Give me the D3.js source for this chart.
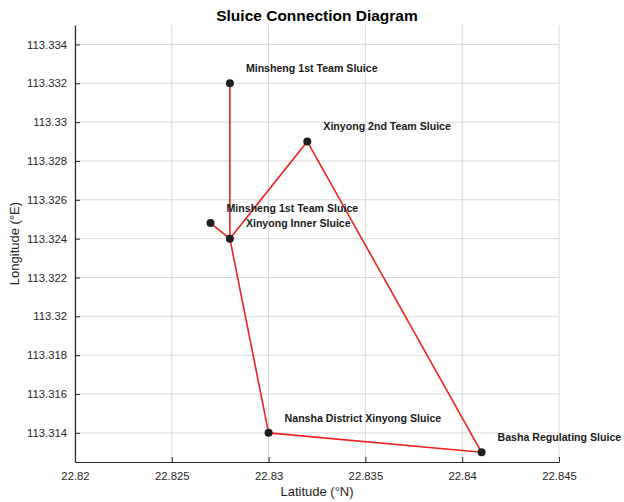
<!DOCTYPE html>
<html>
<head>
<meta charset="utf-8">
<script src="https://cdn.jsdelivr.net/npm/d3@7"></script>
<style>
  html, body { margin: 0; padding: 0; background: #fff; }
  svg { display: block; font-family: "Liberation Sans", Arial, Helvetica, sans-serif; }
</style>
</head>
<body>
<svg id="chart" width="624" height="502"></svg>
<script>
// Sluice stations: latitude (x) and longitude (y)
const names = [
  "Minsheng 1st Team Sluice",
  "Xinyong 2nd Team Sluice",
  "Minsheng 1st Team Sluice",
  "Xinyong Inner Sluice",
  "Nansha District Xinyong Sluice",
  "Basha Regulating Sluice"
];
const latitudes  = [22.828, 22.832, 22.827, 22.828, 22.830, 22.841];
const longitudes = [113.332, 113.329, 113.3248, 113.324, 113.314, 113.313];

// Channel connections between stations (index pairs)
const links = [[0, 3], [3, 1], [1, 5], [5, 4], [4, 3], [3, 2]];

const xTicks = [22.82, 22.825, 22.83, 22.835, 22.84, 22.845];
const yTicks = [113.314, 113.316, 113.318, 113.32, 113.322, 113.324, 113.326, 113.328, 113.33, 113.332, 113.334];

const margin = { left: 75, right: 65, top: 25, bottom: 40 };
const W = 624, H = 502;
const svg = d3.select("#chart");

const x = d3.scaleLinear().domain([22.82, 22.845]).range([margin.left, W - margin.right]);
const y = d3.scaleLinear().domain([113.3125, 113.335]).range([H - margin.bottom, margin.top]);

const fmt = d => String(+d.toFixed(4));
const axisColor = "#262626";

// grid
const grid = svg.append("g");
grid.selectAll("line.v").data(xTicks).join("line")
  .attr("x1", d => x(d)).attr("x2", d => x(d))
  .attr("y1", y.range()[1]).attr("y2", y.range()[0])
  .attr("stroke", "#d9d9d9").attr("stroke-width", 1);
grid.selectAll("line.h").data(yTicks).join("line")
  .attr("y1", d => y(d)).attr("y2", d => y(d))
  .attr("x1", x.range()[0]).attr("x2", x.range()[1])
  .attr("stroke", "#d9d9d9").attr("stroke-width", 1);

// axes (ticks point inward)
const xAxis = svg.append("g")
  .attr("transform", `translate(0,${y.range()[0]})`)
  .call(d3.axisBottom(x).tickValues(xTicks).tickFormat(fmt).tickSizeInner(-5).tickSizeOuter(0).tickPadding(10));
const yAxis = svg.append("g")
  .attr("transform", `translate(${x.range()[0]},0)`)
  .call(d3.axisLeft(y).tickValues(yTicks).tickFormat(fmt).tickSizeInner(-5).tickSizeOuter(0).tickPadding(8));

[xAxis, yAxis].forEach(a => {
  a.select(".domain").attr("stroke", axisColor).attr("stroke-width", 1.2);
  a.selectAll(".tick line").attr("stroke", axisColor);
  a.selectAll(".tick text").attr("fill", axisColor).style("font-size", "11.3px");
});

// connections
svg.append("g").selectAll("line").data(links).join("line")
  .attr("x1", d => x(latitudes[d[0]])).attr("y1", d => y(longitudes[d[0]]))
  .attr("x2", d => x(latitudes[d[1]])).attr("y2", d => y(longitudes[d[1]]))
  .attr("stroke", "#ee2222").attr("stroke-width", 1.6);

// stations
svg.append("g").selectAll("circle").data(names).join("circle")
  .attr("cx", (d, i) => x(latitudes[i])).attr("cy", (d, i) => y(longitudes[i]))
  .attr("r", 4).attr("fill", "#1f1f1f");

// station labels
svg.append("g").selectAll("text").data(names).join("text")
  .attr("x", (d, i) => x(latitudes[i]) + 16)
  .attr("y", (d, i) => y(longitudes[i]) - 14)
  .attr("dominant-baseline", "middle")
  .attr("font-size", "10.6px").attr("font-weight", "bold").attr("fill", "#1a1a1a")
  .text(d => d);

// title and axis labels
svg.append("text").attr("x", (x.range()[0] + x.range()[1]) / 2).attr("y", 21)
  .attr("text-anchor", "middle").attr("font-size", "15.5px").attr("font-weight", "bold").attr("fill", "#000")
  .text("Sluice Connection Diagram");
svg.append("text").attr("x", (x.range()[0] + x.range()[1]) / 2).attr("y", 496)
  .attr("text-anchor", "middle").attr("font-size", "13px").attr("fill", axisColor)
  .text("Latitude (°N)");
svg.append("text").attr("transform", `translate(19,${(y.range()[0] + y.range()[1]) / 2}) rotate(-90)`)
  .attr("text-anchor", "middle").attr("font-size", "13px").attr("fill", axisColor)
  .text("Longitude (°E)");
</script>
</body>
</html>
